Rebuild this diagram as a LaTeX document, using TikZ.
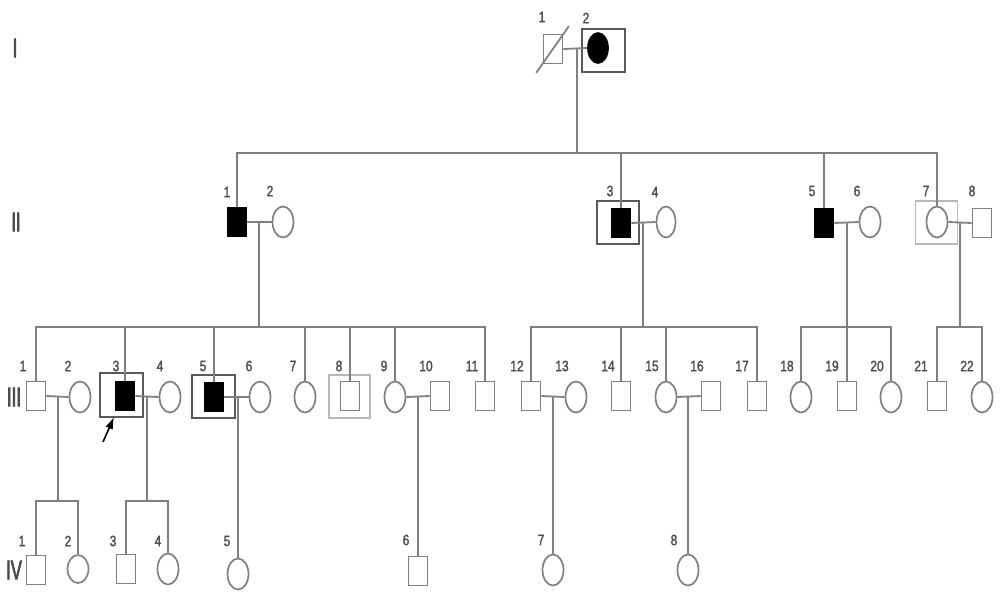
\documentclass[tikz,border=0pt]{standalone}
\usepackage{fontspec}
\setmainfont{Liberation Sans}
\newfontfamily\numfont[FakeStretch=0.8,FakeBold=1.5]{Liberation Sans}
\newfontfamily\genfont[FakeStretch=0.62,FakeBold=2.5]{Liberation Sans}
\usetikzlibrary{shapes.geometric,arrows.meta,calc}
\definecolor{lncol}{gray}{0.5}
\definecolor{txcol}{gray}{0.3}
\definecolor{frcol}{gray}{0.35}
\definecolor{lfrcol}{gray}{0.72}
\begin{document}
\begin{tikzpicture}[x=1pt,y=-1pt,
  ln/.style={draw=lncol,line width=1.8pt},
  male/.style={rectangle,draw=lncol,line width=1.7pt,minimum width=19pt,minimum height=29pt,inner sep=0pt},
  female/.style={ellipse,draw=lncol,line width=1.7pt,minimum width=21pt,minimum height=31pt,inner sep=0pt},
  aff/.style={fill=black,draw=black},
  framebox/.style={rectangle,draw=frcol,line width=2.3pt,minimum width=42pt,minimum height=43pt,inner sep=0pt},
  lframebox/.style={rectangle,draw=lfrcol,line width=1.6pt,minimum width=42pt,minimum height=43pt,inner sep=0pt},
  num/.style={font=\numfont\fontsize{15}{15}\selectfont,text=txcol,inner sep=0pt},
  gen/.style={font=\genfont\fontsize{27}{27}\selectfont,text=txcol,inner sep=0pt}]
\useasboundingbox (0,0) rectangle (1000,598);
% generation labels
\node[gen] (gI) at (15,48) {I};
\node[gen] (gII) at (16,222) {II};
\node[gen] (gIII) at (14,397) {III};
\node[gen] (gIV) at (14,570) {IV};
% ---------- Generation I ----------
\node[male] (I1) at (553,49) {};
\node[framebox,minimum width=43pt] (I2f) at (603.5,50.5) {};
\node[female,aff,minimum width=20pt,minimum height=30pt] (I2) at (598,48) {};
\draw[ln] ($(I1.south west)+(-6.5,8.5)$) -- ($(I1.north east)+(5.5,-7.5)$);
\node[num] (lI1) at (542,17) {1};
\node[num] (lI2) at (586,18) {2};
\coordinate (mI) at (577,49);
\coordinate (sI) at (577,153);
\draw[ln] (I1.east) -- (I2.west);
\draw[ln] (mI) -- (sI);
% ---------- Generation II ----------
\node[male,aff] (II1) at (237,222) {};
\node[female] (II2) at (283,222) {};
\node[framebox] (II3f) at (618,222.5) {};
\node[male,aff] (II3) at (621,223) {};
\node[female,minimum width=19pt] (II4) at (666,222) {};
\node[male,aff] (II5) at (824,223) {};
\node[female] (II6) at (870,222) {};
\node[lframebox] (II7f) at (936.5,222.5) {};
\node[female] (II7) at (937,222) {};
\node[male] (II8) at (982,223) {};
\node[num] (lII1) at (227,192) {1};
\node[num] (lII2) at (270,191) {2};
\node[num] (lII3) at (610,191) {3};
\node[num] (lII4) at (655,192) {4};
\node[num] (lII5) at (812,191) {5};
\node[num] (lII6) at (857,191) {6};
\node[num] (lII7) at (926,191) {7};
\node[num] (lII8) at (972,191) {8};
\draw[ln] (II1.north) |- (II7.north |- sI) -- (II7.north);
\draw[ln] (II3.north |- sI) -- (II3.north);
\draw[ln] (II5.north |- sI) -- (II5.north);
\draw[ln] (II1.east) -- (II2.west);
\draw[ln] (II3.east) -- (II4.west);
\draw[ln] (II5.east) -- (II6.west);
\draw[ln] (II7.east) -- (II8.west);
\coordinate (m21) at (259,222);  \coordinate (s21) at (259,327);
\coordinate (m23) at (643,222);  \coordinate (s23) at (643,327);
\coordinate (m25) at (847,222);  \coordinate (s25) at (847,327);
\coordinate (m27) at (960,222);  \coordinate (s27) at (960,327);
\draw[ln] (m21) -- (s21);
\draw[ln] (m23) -- (s23);
\draw[ln] (m25) -- (s25);
\draw[ln] (m27) -- (s27);
% ---------- Generation III ----------
\node[male] (III1) at (36,396) {};
\node[female] (III2) at (80,397) {};
\node[framebox,minimum width=43pt,minimum height=44pt] (III3f) at (121.5,395) {};
\node[male,aff] (III3) at (125,396) {};
\node[female] (III4) at (170,397) {};
\node[framebox,minimum width=43pt] (III5f) at (213.5,396.5) {};
\node[male,aff] (III5) at (214,397) {};
\node[female] (III6) at (260,397) {};
\node[female] (III7) at (305,397) {};
\node[lframebox,minimum width=41pt] (III8f) at (349.5,396.5) {};
\node[male] (III8) at (350,396) {};
\node[female] (III9) at (395,397) {};
\node[male] (III10) at (440,396) {};
\node[male] (III11) at (485,396) {};
\node[male] (III12) at (531,396) {};
\node[female] (III13) at (576,397) {};
\node[male] (III14) at (621,396) {};
\node[female] (III15) at (666,397) {};
\node[male] (III16) at (711,396) {};
\node[male] (III17) at (757,396) {};
\node[female] (III18) at (801,397) {};
\node[male] (III19) at (847,396) {};
\node[female] (III20) at (891,397) {};
\node[male] (III21) at (937,396) {};
\node[female] (III22) at (982,397) {};
\foreach \n/\x in {1/23,2/68,3/116,4/160,5/203,6/249,7/293,8/339,9/384,10/426,11/472,12/517,13/562,14/608,15/652,16/697,17/742,18/787,19/832,20/877,21/921,22/967}
  \node[num] (lIII\n) at (\x,366) {\n};
\draw[ln] (III1.north) |- (III11.north |- s21) -- (III11.north);
\foreach \k in {3,5,7,8,9}
  \draw[ln] (III\k.north |- s21) -- (III\k.north);
\draw[ln] (III12.north) |- (III17.north |- s23) -- (III17.north);
\foreach \k in {14,15}
  \draw[ln] (III\k.north |- s23) -- (III\k.north);
\draw[ln] (III18.north) |- (III20.north |- s25) -- (III20.north);
\draw[ln] (III19.north |- s25) -- (III19.north);
\draw[ln] (III21.north) |- (III22.north |- s27) -- (III22.north);
\draw[ln] (III1.east) -- (III2.west);
\draw[ln] (III3.east) -- (III4.west);
\draw[ln] (III5.east) -- (III6.west);
\draw[ln] (III9.east) -- (III10.west);
\draw[ln] (III12.east) -- (III13.west);
\draw[ln] (III15.east) -- (III16.west);
\coordinate (m31) at (58,396);   \coordinate (s31) at (58,501);
\coordinate (m33) at (147,396);  \coordinate (s33) at (147,501);
\coordinate (m35) at (238,397);
\coordinate (m39) at (418,396);
\coordinate (m312) at (553,396);
\coordinate (m315) at (688,397);
% proband arrow
\coordinate (arT) at (103,442);
\coordinate (arH) at (114,417);
\draw[black,line width=1.6pt,-{Latex[length=12pt,width=8pt]}] (arT) -- (arH);
% ---------- Generation IV ----------
\node[male] (IV1) at (36,570) {};
\node[female,minimum height=28pt] (IV2) at (78,569) {};
\node[male] (IV3) at (126,569) {};
\node[female] (IV4) at (168,569) {};
\node[female] (IV5) at (238,574) {};
\node[male] (IV6) at (418,571) {};
\node[female] (IV7) at (553,570) {};
\node[female] (IV8) at (688,570) {};
\node[num] (lIV1) at (22,541) {1};
\node[num] (lIV2) at (68,541) {2};
\node[num] (lIV3) at (113,541) {3};
\node[num] (lIV4) at (158,541) {4};
\node[num] (lIV5) at (227,541) {5};
\node[num] (lIV6) at (406,540) {6};
\node[num] (lIV7) at (541,540) {7};
\node[num] (lIV8) at (674,540) {8};
\draw[ln] (m31) -- (s31);
\draw[ln] (IV1.north) |- (IV2.north |- s31) -- (IV2.north);
\draw[ln] (m33) -- (s33);
\draw[ln] (IV3.north) |- (IV4.north |- s33) -- (IV4.north);
\draw[ln] (m35) -- (IV5.north);
\draw[ln] (m39) -- (IV6.north);
\draw[ln] (m312) -- (IV7.north);
\draw[ln] (m315) -- (IV8.north);
\end{tikzpicture}
\end{document}
